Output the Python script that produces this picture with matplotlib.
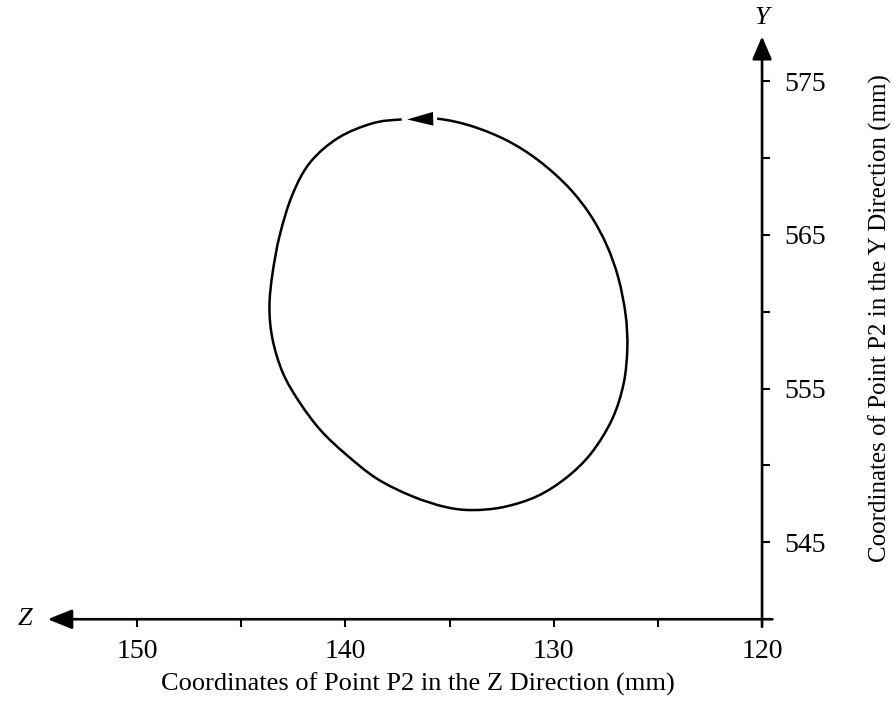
import matplotlib
matplotlib.use('Agg')
import matplotlib.pyplot as plt
from matplotlib.path import Path
from matplotlib.patches import PathPatch
import numpy as np

# trajectory of point P2 (Z, Y) in mm
z_path = [137.3, 138.7, 140.35, 141.7, 142.55, 143.15, 143.5, 143.65, 143.5, 143.0,
          142.2, 141.2, 140.0, 138.5, 136.8, 135.2, 133.9, 132.4, 130.8, 129.4,
          128.2, 127.2, 126.65, 126.47, 126.55, 126.9, 127.45, 128.25, 129.3, 130.7,
          132.2, 133.9, 135.6]
y_path = [572.5, 572.25, 571.3, 569.7, 567.6, 565.0, 562.5, 560.3, 558.2, 556.0,
          554.1, 552.3, 550.75, 549.15, 548.0, 547.3, 547.1, 547.3, 548.0, 549.2,
          550.8, 553.0, 555.3, 557.6, 559.8, 562.2, 564.3, 566.3, 568.1, 569.8,
          571.1, 572.05, 572.55]

# direction arrow on the path (tail -> tip)
arrow_tail = (135.6, 572.55)
arrow_tip = (137.04, 572.5)

x_major = [150, 140, 130, 120]
x_minor = [145, 135, 125]
y_major = [545, 555, 565, 575]
y_minor = [550, 560, 570]

serif = 'Liberation Serif'

fig = plt.figure(figsize=(8.95, 7.04), dpi=100)
ax = fig.add_axes([0.0369, 0.0767, 0.8611, 0.8956])
ax.set_xlim(155, 118)
ax.set_ylim(538, 579)

for s in ax.spines.values():
    s.set_visible(False)
ax.spines['bottom'].set_position(('data', 540))
ax.spines['right'].set_position(('data', 120))

ax.set_xticks(x_major)
ax.set_xticks(x_minor, minor=True)
ax.set_yticks(y_major)
ax.set_yticks(y_minor, minor=True)
ax.yaxis.tick_right()
ax.tick_params(which='both', direction='out', length=6, width=1.5, color='black')
ax.tick_params(axis='x', which='major', pad=8, labelsize=20)
ax.tick_params(axis='y', which='major', pad=10, labelsize=20)
for lab in ax.get_xticklabels() + ax.get_yticklabels():
    lab.set_fontfamily(serif)

# axis lines with arrow heads
ax.annotate('', xy=(154.3, 540), xytext=(119.5, 540), annotation_clip=False,
            arrowprops=dict(arrowstyle='-|>,head_length=0.75,head_width=0.3',
                            mutation_scale=20, lw=1.9, color='black',
                            shrinkA=0, shrinkB=0))
ax.annotate('', xy=(120, 577.9), xytext=(120, 539.5), annotation_clip=False,
            arrowprops=dict(arrowstyle='-|>,head_length=0.7,head_width=0.3',
                            mutation_scale=20, lw=1.9, color='black',
                            shrinkA=0, shrinkB=0))
ax.text(155.4, 540, 'Z', family=serif, style='italic', fontsize=19,
        ha='center', va='center', clip_on=False)
ax.text(120, 579.1, 'Y', family=serif, style='italic', fontsize=19,
        ha='center', va='center', clip_on=False)

# trajectory: smooth curve through the read points (Catmull-Rom as cubic Beziers)
pts = np.column_stack([z_path, y_path])
n = len(pts)
verts = [pts[0]]
codes = [Path.MOVETO]
for i in range(n - 1):
    p0, p1, p2, p3 = pts[(i - 1) % n], pts[i], pts[i + 1], pts[(i + 2) % n]
    verts += [p1 + (p2 - p0) / 6, p2 - (p3 - p1) / 6, p2]
    codes += [Path.CURVE4] * 3
ax.add_patch(PathPatch(Path(verts, codes), facecolor='none', edgecolor='black',
                       lw=1.8, capstyle='butt'))
ax.annotate('', xy=arrow_tip, xytext=arrow_tail,
            arrowprops=dict(arrowstyle='-|>,head_length=1.25,head_width=0.33',
                            mutation_scale=15, lw=0, color='black',
                            shrinkA=0, shrinkB=0))

fig.text(418 / 895, 1 - 684 / 704, 'Coordinates of Point P2 in the Z Direction (mm)',
         family=serif, fontsize=19, ha='center', va='center')
fig.text(880 / 895, 1 - 318 / 704, 'Coordinates of Point P2 in the Y Direction (mm)',
         family=serif, fontsize=18, ha='center', va='center', rotation=90)

fig.savefig('out.png', dpi=100)
